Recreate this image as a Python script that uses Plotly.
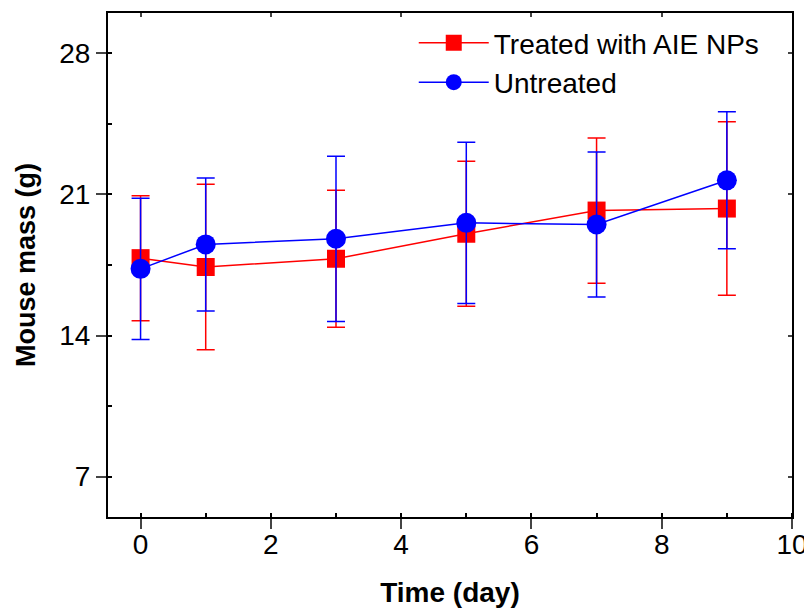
import plotly.graph_objects as go

days = [0, 1, 3, 5, 7, 9]
treated_mass = [17.84, 17.4, 17.81, 19.05, 20.2, 20.3]
treated_err = [3.1, 4.1, 3.4, 3.6, 3.6, 4.3]
untreated_mass = [17.31, 18.52, 18.8, 19.59, 19.51, 21.7]
untreated_err = [3.5, 3.3, 4.1, 4.0, 3.6, 3.4]

x_ticks = [0, 2, 4, 6, 8, 10]
y_ticks = [7, 14, 21, 28]

FONT = "Liberation Sans, Arial, sans-serif"

fig = go.Figure()
fig.add_trace(go.Scatter(
    x=days, y=treated_mass, name="Treated with AIE NPs",
    mode="lines+markers",
    line=dict(color="#ff0000", width=1.5),
    marker=dict(symbol="square", size=18, color="#ff0000"),
    error_y=dict(type="data", array=treated_err, visible=True,
                 color="#ff0000", thickness=1.5, width=9),
))
fig.add_trace(go.Scatter(
    x=days, y=untreated_mass, name="Untreated",
    mode="lines+markers",
    line=dict(color="#0000ff", width=1.5),
    marker=dict(symbol="circle", size=20, color="#0000ff"),
    error_y=dict(type="data", array=untreated_err, visible=True,
                 color="#0000ff", thickness=1.5, width=9),
))
# empty trace only to activate the mirrored top/right axes
fig.add_trace(go.Scatter(x=[], y=[], xaxis="x2", yaxis="y2",
                         showlegend=False, hoverinfo="skip"))

fig.update_layout(
    width=804, height=602,
    margin=dict(l=100, r=20, t=5, b=93, autoexpand=False),
    paper_bgcolor="white", plot_bgcolor="white",
    font=dict(family=FONT, size=28, color="black"),
    showlegend=True,
    legend=dict(x=0.447, y=0.99, xanchor="left", yanchor="top",
                bgcolor="rgba(0,0,0,0)", font=dict(size=28),
                itemwidth=70, tracegroupgap=0),
    xaxis=dict(range=[-0.5, 10], tickvals=x_ticks, ticks="outside", ticklen=10,
               tickwidth=2, showline=True, linewidth=2, linecolor="black",
               showgrid=False, zeroline=False, automargin=False,
               ticklabelstandoff=-9, ticklabeloverflow="allow",
               minor=dict(dtick=1, tick0=0, ticks="inside", ticklen=4, tickwidth=1.5, tickcolor="black"),
               title=dict(text="<b>Time (day)</b>", font=dict(size=28), standoff=24),
               tickfont=dict(size=28)),
    yaxis=dict(range=[5, 30], tickvals=y_ticks, ticks="outside", ticklen=10,
               tickwidth=2, showline=True, linewidth=2, linecolor="black",
               showgrid=False, zeroline=False, automargin=False,
               minor=dict(dtick=3.5, tick0=0, ticks="inside", ticklen=4, tickwidth=1.5, tickcolor="black"),
               title=dict(text="<b>Mouse mass (g)</b>", font=dict(size=27), standoff=16),
               tickfont=dict(size=28)),
    xaxis2=dict(range=[-0.5, 10], overlaying="x", side="top", anchor="y",
                tickvals=x_ticks, ticks="inside", ticklen=4, tickwidth=1.5,
                showticklabels=False, showline=True, linewidth=2, linecolor="black",
                showgrid=False, zeroline=False),
    yaxis2=dict(range=[5, 30], overlaying="y", side="right", anchor="x",
                tickvals=y_ticks, ticks="inside", ticklen=4, tickwidth=1.5,
                showticklabels=False, showline=True, linewidth=2, linecolor="black",
                showgrid=False, zeroline=False),
)

fig.write_html("out.html")
